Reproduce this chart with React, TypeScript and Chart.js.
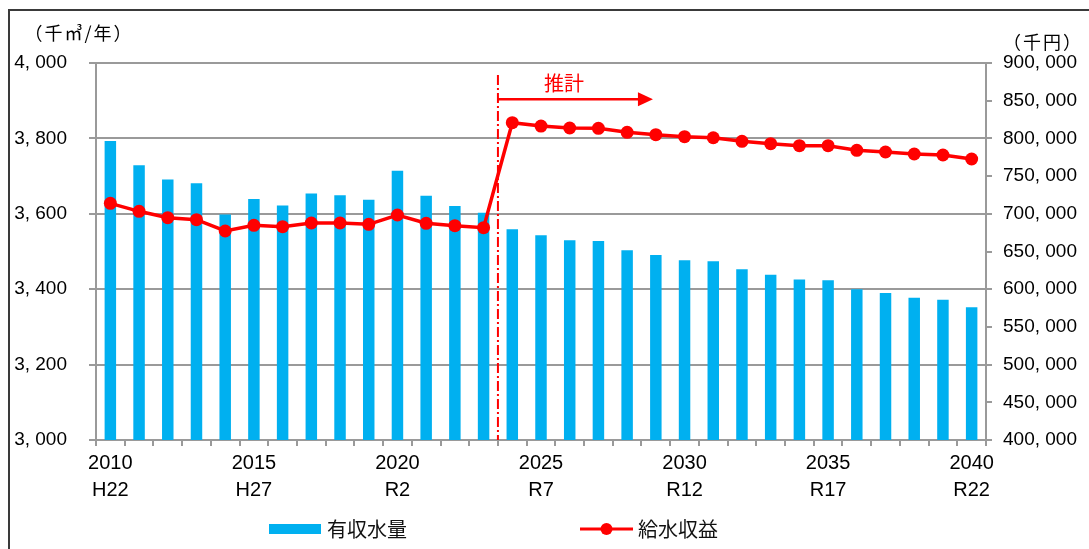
import React, { useEffect, useRef } from 'react';
import { Chart, registerables } from 'chart.js';

Chart.register(...registerables);

// Fiscal years (西暦) on the category axis
const years = [
  '2010', '2011', '2012', '2013', '2014', '2015', '2016', '2017', '2018', '2019',
  '2020', '2021', '2022', '2023', '2024', '2025', '2026', '2027', '2028', '2029',
  '2030', '2031', '2032', '2033', '2034', '2035', '2036', '2037', '2038', '2039', '2040',
];

// Japanese era labels shown under every fifth year
const eraLabels = ['H22', 'H27', 'R2', 'R7', 'R12', 'R17', 'R22'];

// 有収水量 (千㎥/年), left axis
const volumes = [
  3793, 3729, 3691, 3681, 3598, 3639, 3622, 3654, 3649, 3637,
  3714, 3648, 3621, 3603, 3559, 3543, 3530, 3528, 3503, 3491,
  3477, 3474, 3453, 3438, 3426, 3424, 3400, 3390, 3377, 3372, 3352,
];

// 給水収益 (千円), right axis
const revenue = [
  713900, 703300, 694800, 692200, 677200, 684700, 682900, 687800, 687800, 686000,
  698400, 687400, 684200, 681600, 820800, 816400, 813800, 813400, 808100, 804900,
  802300, 800900, 796100, 793000, 790300, 790300, 784200, 782000, 779300, 778000, 772700,
];

const leftTicks = { min: 3000, max: 4000, step: 200 };
const rightTicks = { min: 400000, max: 900000, step: 50000 };

// Forecast marker: boundary between 2023 and 2024, arrow reaching into 2028-29
const forecastLabel = '推計';
const forecastStart = 13.5;
const forecastArrowEnd = 18.9;
const forecastTextAt = 15.8;
const forecastLineTop = 884000;
const forecastArrowY = 852000;
const forecastTextY = 873000;

const leftTitle = '（千㎥/年）';
const rightTitle = '（千円）';

const BAR_COLOR = '#00B0F0';
const LINE_COLOR = '#FF0000';
const AXIS_COLOR = '#9a9a9a';
const CJK = '"Noto Sans CJK JP", "Noto Sans", sans-serif';
const LATIN = '"Liberation Sans", Arial, sans-serif';

const W = 1089;
const H = 549;

const fmt = (v: number) => Math.round(v).toLocaleString('en-US').replace(/,/g, ', ');

const decorPlugin = {
  id: 'decor',
  afterDatasetsDraw(chart: any) {
    const { ctx, scales } = chart;
    const x = scales.x;
    const yR = scales.yR;
    const xs = x.getPixelForValue(forecastStart);
    const xe = x.getPixelForValue(forecastArrowEnd);
    const yTop = yR.getPixelForValue(forecastLineTop);
    const yArrow = yR.getPixelForValue(forecastArrowY);
    const yText = yR.getPixelForValue(forecastTextY);
    ctx.save();
    // dash-dot forecast boundary
    ctx.strokeStyle = LINE_COLOR;
    ctx.lineWidth = 2;
    ctx.setLineDash([10, 3, 2, 3]);
    ctx.beginPath();
    ctx.moveTo(xs, yTop);
    ctx.lineTo(xs, chart.chartArea.bottom);
    ctx.stroke();
    ctx.setLineDash([]);
    // arrow
    ctx.lineWidth = 2.5;
    ctx.beginPath();
    ctx.moveTo(xs, yArrow);
    ctx.lineTo(xe - 14, yArrow);
    ctx.stroke();
    ctx.fillStyle = LINE_COLOR;
    ctx.beginPath();
    ctx.moveTo(xe, yArrow);
    ctx.lineTo(xe - 15, yArrow - 7);
    ctx.lineTo(xe - 15, yArrow + 7);
    ctx.closePath();
    ctx.fill();
    // label
    ctx.font = `20px ${CJK}`;
    ctx.textAlign = 'center';
    ctx.textBaseline = 'middle';
    ctx.fillText(forecastLabel, x.getPixelForValue(forecastTextAt), yText);
    ctx.restore();
  },
  afterDraw(chart: any) {
    const { ctx } = chart;
    ctx.save();
    // axis unit titles
    ctx.fillStyle = '#000';
    ctx.font = `18px ${CJK}`;
    ctx.textAlign = 'center';
    ctx.textBaseline = 'middle';
    if ('letterSpacing' in ctx) (ctx as any).letterSpacing = '2px';
    ctx.fillText(leftTitle, 79, 33);
    ctx.fillText(rightTitle, 1043, 42);
    if ('letterSpacing' in ctx) (ctx as any).letterSpacing = '0px';

    // legend
    const ly = 529;
    const bar = chart.data.datasets[1];
    const line = chart.data.datasets[0];
    ctx.fillStyle = bar.backgroundColor;
    ctx.fillRect(269, ly - 5, 52, 10);
    ctx.fillStyle = '#111';
    ctx.font = `20px ${CJK}`;
    ctx.textAlign = 'left';
    ctx.fillText(bar.label, 327, ly);

    ctx.strokeStyle = line.borderColor;
    ctx.lineWidth = 3;
    ctx.beginPath();
    ctx.moveTo(580, ly);
    ctx.lineTo(633, ly);
    ctx.stroke();
    ctx.fillStyle = line.borderColor;
    ctx.beginPath();
    ctx.arc(606.5, ly, 6, 0, Math.PI * 2);
    ctx.fill();
    ctx.fillStyle = '#111';
    ctx.fillText(line.label, 638, ly);

    // outer frame (top and left edges)
    ctx.strokeStyle = '#3a3a3a';
    ctx.lineWidth = 2;
    ctx.beginPath();
    ctx.moveTo(9, H);
    ctx.lineTo(9, 10);
    ctx.lineTo(W, 10);
    ctx.stroke();
    ctx.restore();
  },
};

export default function App() {
  const ref = useRef<HTMLCanvasElement>(null);

  useEffect(() => {
    if (!ref.current) return;
    const chart = new Chart(ref.current, {
      type: 'bar',
      data: {
        labels: years,
        datasets: [
          {
            type: 'line',
            label: '給水収益',
            data: revenue,
            yAxisID: 'yR',
            borderColor: LINE_COLOR,
            backgroundColor: LINE_COLOR,
            borderWidth: 3.5,
            pointRadius: 6.5,
            pointBorderWidth: 0,
            pointBackgroundColor: LINE_COLOR,
            tension: 0,
            order: 0,
          } as any,
          {
            type: 'bar',
            label: '有収水量',
            data: volumes,
            yAxisID: 'yL',
            backgroundColor: BAR_COLOR,
            barPercentage: 0.4,
            categoryPercentage: 1,
            order: 1,
          },
        ],
      },
      options: {
        responsive: false,
        animation: false,
        devicePixelRatio: 1,
        layout: { padding: { top: 63, bottom: 39, left: 0, right: 0 } },
        plugins: {
          legend: { display: false },
          tooltip: { enabled: false },
          title: { display: false },
        },
        scales: {
          x: {
            type: 'category',
            offset: true,
            grid: {
              offset: true,
              drawOnChartArea: false,
              drawTicks: true,
              tickLength: 6,
              color: AXIS_COLOR,
              lineWidth: 2,
            },
            border: { color: AXIS_COLOR, width: 2 },
            ticks: {
              autoSkip: false,
              maxRotation: 0,
              minRotation: 0,
              padding: 4,
              color: '#000',
              font: { family: LATIN, size: 20, lineHeight: 1.34 },
              callback: (_v: any, i: number) => (i % 5 === 0 ? [years[i], eraLabels[i / 5]] : ''),
            },
            afterFit: (s: any) => {
              s.height = 70;
            },
          },
          yL: {
            type: 'linear',
            position: 'left',
            min: leftTicks.min,
            max: leftTicks.max,
            ticks: {
              stepSize: leftTicks.step,
              padding: 22,
              color: '#000',
              font: { family: LATIN, size: 19 },
              callback: (v: any) => fmt(Number(v)),
            },
            grid: { color: AXIS_COLOR, lineWidth: 2, tickLength: 7, drawTicks: true },
            border: { color: AXIS_COLOR, width: 2 },
            afterFit: (s: any) => {
              s.width = 96;
            },
          },
          yR: {
            type: 'linear',
            position: 'right',
            min: rightTicks.min,
            max: rightTicks.max,
            ticks: {
              stepSize: rightTicks.step,
              padding: 11,
              color: '#000',
              font: { family: LATIN, size: 19 },
              callback: (v: any) => fmt(Number(v)),
            },
            grid: { drawOnChartArea: false, color: AXIS_COLOR, lineWidth: 2, tickLength: 6, drawTicks: true },
            border: { color: AXIS_COLOR, width: 2 },
            afterFit: (s: any) => {
              s.width = W - 986;
            },
          },
        },
      } as any,
      plugins: [decorPlugin],
    });
    return () => chart.destroy();
  }, []);

  return (
    <div style={{ position: 'absolute', left: 0, top: 0, width: W, height: H, background: '#fff' }}>
      <canvas ref={ref} width={W} height={H} style={{ display: 'block', width: W, height: H }} />
    </div>
  );
}
